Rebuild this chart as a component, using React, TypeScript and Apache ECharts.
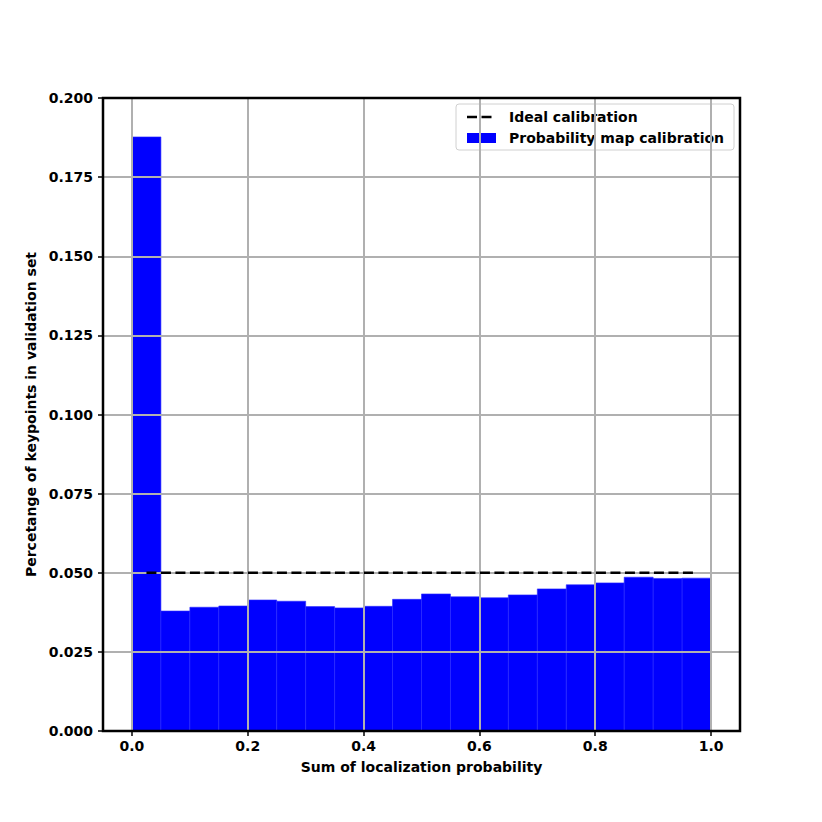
import React, { useEffect, useRef } from "react";
import * as echarts from "echarts";

const binStarts = [0, 0.05, 0.1, 0.15, 0.2, 0.25, 0.3, 0.35, 0.4, 0.45, 0.5, 0.55, 0.6, 0.65, 0.7, 0.75, 0.8, 0.85, 0.9, 0.95];
const binWidth = 0.05;
const binValues = [0.1877, 0.0379, 0.0391, 0.0395, 0.0414, 0.0410, 0.0393, 0.0389, 0.0394, 0.0416, 0.0433, 0.0424, 0.0421, 0.0430, 0.0449, 0.0462, 0.0468, 0.0486, 0.0482, 0.0483];
const idealX = [0.025, 0.975];
const idealY = [0.05, 0.05];
const xTicks = [0, 0.2, 0.4, 0.6, 0.8, 1.0];
const yTicks = [0, 0.025, 0.05, 0.075, 0.1, 0.125, 0.15, 0.175, 0.2];
const legendLabels = ["Ideal calibration", "Probability map calibration"];
const xTitle = "Sum of localization probability";
const yTitle = "Percetange of keypoints in validation set";

const FONT = "DejaVu Sans";

export default function App() {
  const ref = useRef<HTMLDivElement>(null);
  useEffect(() => {
    if (!ref.current) return;
    const chart = echarts.init(ref.current, null, { renderer: "svg" });
    const L = 103, T = 98, R = 740, B = 731;
    const barData = binStarts.map((s, i) => [s, s + binWidth, binValues[i]]);
    const gridMarks: any[] = [
      ...xTicks.map((v) => ({ xAxis: v })),
      ...yTicks.map((v) => ({ yAxis: v })),
    ];
    const option: any = {
      animation: false,
      backgroundColor: "#ffffff",
      grid: { left: L, top: T, right: 822 - R, bottom: 822 - B, containLabel: false },
      xAxis: {
        type: "value",
        min: -0.05,
        max: 1.05,
        name: xTitle,
        nameLocation: "middle",
        nameGap: 29,
        nameTextStyle: { fontFamily: FONT, fontWeight: "bold", fontSize: 14, color: "#000" },
        axisLine: { show: false, onZero: false },
        axisTick: { show: true, customValues: xTicks, length: 5, lineStyle: { color: "#000", width: 1.5 } },
        axisLabel: {
          customValues: xTicks,
          formatter: (v: number) => v.toFixed(1),
          fontFamily: FONT,
          fontWeight: "bold",
          fontSize: 14,
          color: "#000",
          margin: 8,
        },
        splitLine: { show: false },
      },
      yAxis: {
        type: "value",
        min: 0,
        max: 0.2,
        interval: 0.025,
        name: yTitle,
        nameLocation: "middle",
        nameGap: 56,
        nameTextStyle: { fontFamily: FONT, fontWeight: "bold", fontSize: 14, color: "#000" },
        axisLine: { show: false, onZero: false },
        axisTick: { show: true, length: 5, lineStyle: { color: "#000", width: 1.5 } },
        axisLabel: {
          formatter: (v: number) => v.toFixed(3),
          fontFamily: FONT,
          fontWeight: "bold",
          fontSize: 14,
          color: "#000",
          margin: 10,
        },
        splitLine: { show: false },
      },
      series: [
        {
          type: "custom",
          z: 2,
          silent: true,
          data: barData,
          renderItem: (params: any, api: any) => {
            const x0 = api.value(0), x1 = api.value(1), y = api.value(2);
            const p0 = api.coord([x0, y]);
            const p1 = api.coord([x1, 0]);
            return {
              type: "rect",
              shape: { x: p0[0], y: p0[1], width: p1[0] - p0[0], height: p1[1] - p0[1] },
              style: { fill: "#0000ff", stroke: "#2a2aff", lineWidth: 0.6 },
            };
          },
        },
        {
          type: "line",
          z: 3,
          silent: true,
          data: [],
          markLine: {
            silent: true,
            z: 3,
            precision: 4,
            symbol: ["none", "none"],
            label: { show: false },
            lineStyle: { color: "#b0b0b0", width: 2, type: "solid" },
            emphasis: { disabled: true },
            data: gridMarks,
          },
        },
        {
          type: "line",
          z: 10,
          silent: true,
          symbol: "none",
          data: idealX.map((x, i) => [x, idealY[i]]),
          lineStyle: { color: "#000", width: 2.5, type: [10, 4.5] },
        },
      ],
      graphic: [
        {
          type: "rect",
          z: 100,
          shape: { x: L, y: T, width: R - L, height: B - T },
          style: { fill: "none", stroke: "#000", lineWidth: 2.5 },
          silent: true,
        },
        {
          type: "group",
          z: 110,
          children: [
            {
              type: "rect",
              shape: { x: 456, y: 104, width: 278, height: 46, r: 3 },
              style: { fill: "rgba(255,255,255,0.8)", stroke: "#d0d0d0", lineWidth: 1 },
            },
            {
              type: "line",
              shape: { x1: 467, y1: 117, x2: 496, y2: 117 },
              style: { stroke: "#000", lineWidth: 2.5, lineDash: [10, 4.5] },
            },
            {
              type: "rect",
              shape: { x: 467, y: 133, width: 29, height: 10 },
              style: { fill: "#0000ff" },
            },
            {
              type: "text",
              x: 509,
              y: 117,
              style: { text: legendLabels[0], fontFamily: FONT, fontWeight: "bold", fontSize: 14, fill: "#000", verticalAlign: "middle" },
            },
            {
              type: "text",
              x: 509,
              y: 138,
              style: { text: legendLabels[1], fontFamily: FONT, fontWeight: "bold", fontSize: 14, fill: "#000", verticalAlign: "middle" },
            },
          ],
        },
      ],
    };
    chart.setOption(option);
    return () => chart.dispose();
  }, []);
  return (
    <div
      ref={ref}
      style={{ position: "fixed", left: 0, top: 0, width: 822, height: 822, background: "#fff" }}
    />
  );
}
